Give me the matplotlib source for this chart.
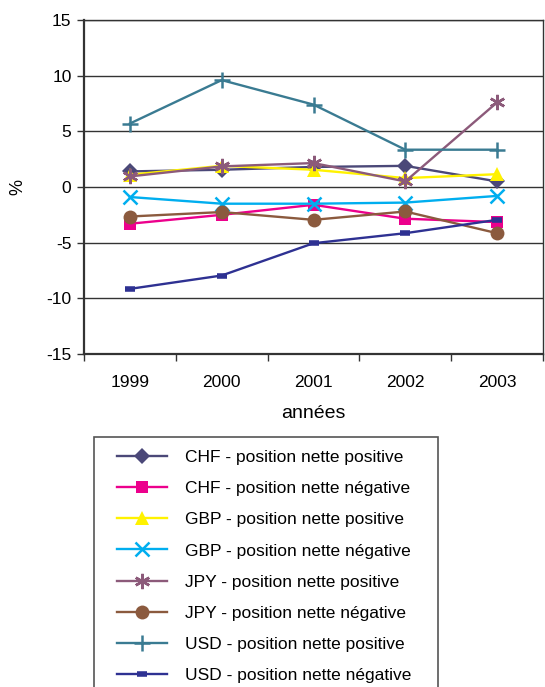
import matplotlib

matplotlib.use("Agg")
import matplotlib.pyplot as plt
from matplotlib.patches import Rectangle

plt.rcParams["font.family"] = ["Liberation Sans", "DejaVu Sans"]

years = ["1999", "2000", "2001", "2002", "2003"]

chf_pos = [1.4, 1.55, 1.8, 1.9, 0.5]
chf_neg = [-3.3, -2.5, -1.6, -2.85, -3.15]
gbp_pos = [1.1, 1.9, 1.55, 0.8, 1.15]
gbp_neg = [-0.9, -1.5, -1.5, -1.4, -0.8]
jpy_pos = [0.95, 1.85, 2.15, 0.5, 7.6]
jpy_neg = [-2.65, -2.25, -2.95, -2.2, -4.15]
usd_pos = [5.7, 9.6, 7.4, 3.35, 3.35]
usd_neg = [-9.15, -7.95, -5.05, -4.15, -2.95]

series = [
    ("CHF - position nette positive", chf_pos, "#4B4878", "D", 8),
    ("CHF - position nette négative", chf_neg, "#EC008C", "s", 9),
    ("GBP - position nette positive", gbp_pos, "#FFF200", "^", 10),
    ("GBP - position nette négative", gbp_neg, "#00AEEF", "x", 10),
    ("JPY - position nette positive", jpy_pos, "#8C5A7A", (6, 2, 0), 11),
    ("JPY - position nette négative", jpy_neg, "#8B5A3E", "o", 10),
    ("USD - position nette positive", usd_pos, "#3A7B92", "+", 12),
    ("USD - position nette négative", usd_neg, "#2E3192", "_", 7),
]

W, H = 545, 687
fig = plt.figure(figsize=(W / 100, H / 100), dpi=100)
ax = fig.add_axes([84 / W, 1 - 354 / H, 459 / W, 334 / H])

x = range(len(years))
for label, values, color, marker, size in series:
    if marker in ("x", "+", (6, 2, 0)):
        mew = 1.8
    elif marker == "_":
        mew = 4
    else:
        mew = 0
    ax.plot(x, values, color=color, lw=1.7, marker=marker, markersize=size,
            markerfacecolor=color, markeredgecolor=color, markeredgewidth=mew,
            label=label, clip_on=False)

ax.set_xlim(-0.5, len(years) - 0.5)
ax.set_ylim(-15, 15)
ax.set_yticks(range(-15, 16, 5))
ax.set_yticklabels([str(v) for v in range(-15, 16, 5)], fontsize=12.5)
ax.grid(axis="y", color="#333333", lw=1)
ax.set_axisbelow(True)

# ticks sit between categories, labels centred on them
ax.set_xticks([i - 0.5 for i in range(len(years) + 1)])
ax.set_xticklabels([])
ax.set_xticks(list(x), minor=True)
ax.set_xticklabels(years, minor=True, fontsize=12.5)
ax.tick_params(axis="x", which="minor", length=0, pad=15)
ax.tick_params(axis="both", which="major", length=5, width=1, color="#333333")
ax.tick_params(axis="y", pad=4)

for side in ["top", "right", "bottom", "left"]:
    ax.spines[side].set_color("#333333")
    ax.spines[side].set_linewidth(1)
ax.spines["left"].set_linewidth(1.6)
ax.spines["bottom"].set_linewidth(1.6)

ax.set_xlabel("années", fontsize=14, labelpad=11)
ax.set_ylabel("%", fontsize=13, labelpad=14)

# legend frame drawn by hand: it runs past the bottom of the picture
fig.patches.append(Rectangle((94 / W, -0.05), 344 / W, 0.05 + 1 - 437 / H,
                             transform=fig.transFigure, fill=False,
                             edgecolor="#555555", lw=1.2))
fig.legend(loc="upper left", bbox_to_anchor=(117 / W, 1 - 450 / H),
           fontsize=12.5, frameon=False, handlelength=2.9, handletextpad=1.0,
           borderpad=0, labelspacing=0.92, borderaxespad=0)

fig.savefig("out.png", dpi=100)
